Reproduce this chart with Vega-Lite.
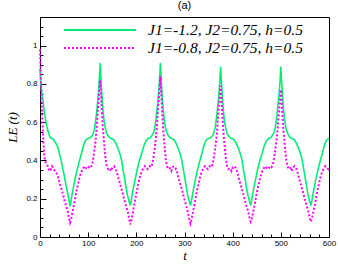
{
  "$schema": "https://vega.github.io/schema/vega-lite/v6.json",
  "width": 289,
  "height": 220,
  "autosize": {"type": "none"},
  "padding": {"left": 40, "top": 17, "right": 9, "bottom": 27},
  "background": "white",
  "title": {"text": "(a)", "font": "Liberation Sans", "fontSize": 11, "fontWeight": "normal", "offset": 2, "color": "#000"},
  "config": {
    "view": {"stroke": "#000", "strokeWidth": 1},
    "axis": {"grid": false, "domainColor": "#000", "tickColor": "#000", "labelColor": "#000", "labelFont": "Liberation Sans", "labelFontSize": 8, "titleColor": "#000", "titleFont": "Liberation Serif", "titleFontStyle": "italic", "titleFontWeight": "normal", "labelOverlap": false, "labelFlush": false},
    "legend": {"orient": "none", "legendX": 23, "legendY": 4, "symbolType": "stroke", "symbolSize": 5184, "symbolStrokeWidth": 2, "clipHeight": 18, "rowPadding": 0, "labelFont": "Liberation Serif", "labelFontStyle": "italic", "labelFontSize": 15.5, "labelOffset": 11, "labelColor": "#000", "labelLimit": 300}
  },
  "datasets": {
    "g": [
      {"t":0,"v":0.88},{"t":1,"v":0.82},{"t":3,"v":0.77},{"t":5.5,"v":0.73},{"t":8,"v":0.67},{"t":10.5,"v":0.63},{"t":13,"v":0.59},{"t":16,"v":0.56},{"t":20,"v":0.525},{"t":24,"v":0.515},{"t":27,"v":0.515},{"t":30,"v":0.5},{"t":33,"v":0.49},{"t":37,"v":0.47},{"t":41,"v":0.43},{"t":44,"v":0.4},{"t":47,"v":0.36},{"t":50.5,"v":0.32},{"t":54,"v":0.27},{"t":57.5,"v":0.23},{"t":60,"v":0.195},
      {"t":62.5,"v":0.16},{"t":64.5,"v":0.19},{"t":66.5,"v":0.22},{"t":69.5,"v":0.26},{"t":72.5,"v":0.3},{"t":76.5,"v":0.345},{"t":81.5,"v":0.395},{"t":86.5,"v":0.44},{"t":90.5,"v":0.48},{"t":94.5,"v":0.505},{"t":99.5,"v":0.515},{"t":104.5,"v":0.52},{"t":108.5,"v":0.53},{"t":111.5,"v":0.55},{"t":113.5,"v":0.57},{"t":115.5,"v":0.61},{"t":117.5,"v":0.65},{"t":119.5,"v":0.7},{"t":121.5,"v":0.76},{"t":123.5,"v":0.84},{"t":125,"v":0.91},{"t":126.5,"v":0.83},{"t":128.5,"v":0.74},{"t":130.5,"v":0.67},{"t":132.5,"v":0.62},{"t":135.5,"v":0.57},{"t":138.5,"v":0.54},{"t":142.5,"v":0.525},{"t":147.5,"v":0.515},{"t":152.5,"v":0.51},{"t":157.5,"v":0.49},{"t":162.5,"v":0.46},{"t":166.5,"v":0.43},{"t":169.5,"v":0.4},{"t":172.5,"v":0.35},{"t":175.5,"v":0.31},{"t":178.5,"v":0.26},{"t":181.5,"v":0.22},{"t":184.5,"v":0.19},
      {"t":187.5,"v":0.165},{"t":189.5,"v":0.19},{"t":191.5,"v":0.225},{"t":194.5,"v":0.265},{"t":197.5,"v":0.3},{"t":201.5,"v":0.35},{"t":206.5,"v":0.4},{"t":211.5,"v":0.44},{"t":215.5,"v":0.475},{"t":219.5,"v":0.5},{"t":224.5,"v":0.515},{"t":229.5,"v":0.52},{"t":233.5,"v":0.535},{"t":236.5,"v":0.55},{"t":238.5,"v":0.575},{"t":240.5,"v":0.61},{"t":242.5,"v":0.655},{"t":244.5,"v":0.7},{"t":246.5,"v":0.765},{"t":248.5,"v":0.84},{"t":250,"v":0.91},{"t":251.5,"v":0.83},{"t":253.5,"v":0.745},{"t":255.5,"v":0.675},{"t":257.5,"v":0.62},{"t":260.5,"v":0.57},{"t":263.5,"v":0.545},{"t":267.5,"v":0.525},{"t":272.5,"v":0.515},{"t":277.5,"v":0.51},{"t":282.5,"v":0.49},{"t":287.5,"v":0.46},{"t":291.5,"v":0.43},{"t":294.5,"v":0.4},{"t":297.5,"v":0.355},{"t":300.5,"v":0.31},{"t":303.5,"v":0.265},{"t":306.5,"v":0.22},{"t":309.5,"v":0.19},
      {"t":312.5,"v":0.165},{"t":314.5,"v":0.19},{"t":316.5,"v":0.22},{"t":319.5,"v":0.26},{"t":322.5,"v":0.3},{"t":326.5,"v":0.345},{"t":331.5,"v":0.395},{"t":336.5,"v":0.44},{"t":340.5,"v":0.48},{"t":344.5,"v":0.505},{"t":349.5,"v":0.515},{"t":354.5,"v":0.52},{"t":358.5,"v":0.53},{"t":361.5,"v":0.55},{"t":363.5,"v":0.57},{"t":365.5,"v":0.605},{"t":367.5,"v":0.645},{"t":369.5,"v":0.695},{"t":371.5,"v":0.75},{"t":373.5,"v":0.82},{"t":375,"v":0.89},{"t":376.5,"v":0.82},{"t":378.5,"v":0.735},{"t":380.5,"v":0.665},{"t":382.5,"v":0.615},{"t":385.5,"v":0.57},{"t":388.5,"v":0.54},{"t":392.5,"v":0.525},{"t":397.5,"v":0.515},{"t":402.5,"v":0.51},{"t":407.5,"v":0.49},{"t":412.5,"v":0.46},{"t":416.5,"v":0.43},{"t":419.5,"v":0.4},{"t":422.5,"v":0.35},{"t":425.5,"v":0.31},{"t":428.5,"v":0.26},{"t":431.5,"v":0.22},{"t":434.5,"v":0.19},
      {"t":437.5,"v":0.165},{"t":439.5,"v":0.19},{"t":441.5,"v":0.225},{"t":444.5,"v":0.265},{"t":447.5,"v":0.3},{"t":451.5,"v":0.35},{"t":456.5,"v":0.4},{"t":461.5,"v":0.44},{"t":465.5,"v":0.475},{"t":469.5,"v":0.5},{"t":474.5,"v":0.515},{"t":479.5,"v":0.52},{"t":483.5,"v":0.535},{"t":486.5,"v":0.55},{"t":488.5,"v":0.575},{"t":490.5,"v":0.605},{"t":492.5,"v":0.65},{"t":494.5,"v":0.7},{"t":496.5,"v":0.755},{"t":498.5,"v":0.82},{"t":500,"v":0.89},{"t":501.5,"v":0.82},{"t":503.5,"v":0.74},{"t":505.5,"v":0.67},{"t":507.5,"v":0.62},{"t":510.5,"v":0.57},{"t":513.5,"v":0.545},{"t":517.5,"v":0.525},{"t":522.5,"v":0.515},{"t":527.5,"v":0.51},{"t":532.5,"v":0.49},{"t":537.5,"v":0.46},{"t":541.5,"v":0.43},{"t":544.5,"v":0.4},{"t":547.5,"v":0.355},{"t":550.5,"v":0.31},{"t":553.5,"v":0.265},{"t":556.5,"v":0.22},{"t":559.5,"v":0.19},
      {"t":562.5,"v":0.165},{"t":564.5,"v":0.19},{"t":566.5,"v":0.22},{"t":569.5,"v":0.26},{"t":572.5,"v":0.3},{"t":576.5,"v":0.345},{"t":581.5,"v":0.395},{"t":586.5,"v":0.44},{"t":590.5,"v":0.48},{"t":594.5,"v":0.505},{"t":599.5,"v":0.515},{"t":600,"v":0.515}
    ],
    "p": [
      {"t":0,"v":0.98},{"t":1,"v":0.9},{"t":2,"v":0.82},{"t":3,"v":0.74},{"t":4.5,"v":0.64},{"t":6,"v":0.55},{"t":7.5,"v":0.48},{"t":9,"v":0.42},{"t":12,"v":0.385},{"t":16,"v":0.37},{"t":19,"v":0.345},{"t":22,"v":0.35},{"t":25,"v":0.37},{"t":28,"v":0.36},{"t":31,"v":0.345},{"t":34,"v":0.335},{"t":37,"v":0.32},{"t":40,"v":0.29},{"t":43,"v":0.265},{"t":47,"v":0.23},{"t":51,"v":0.19},{"t":54,"v":0.165},{"t":57.5,"v":0.136},{"t":60,"v":0.1},
      {"t":62.5,"v":0.075},{"t":64.5,"v":0.09},{"t":67.5,"v":0.13},{"t":71.5,"v":0.18},{"t":74.5,"v":0.225},{"t":78,"v":0.265},{"t":81.5,"v":0.305},{"t":85,"v":0.335},{"t":88.5,"v":0.355},{"t":92.5,"v":0.37},{"t":95.5,"v":0.36},{"t":98.5,"v":0.355},{"t":102.5,"v":0.37},{"t":105.5,"v":0.365},{"t":108.5,"v":0.38},{"t":110.5,"v":0.41},{"t":113,"v":0.455},{"t":115.5,"v":0.51},{"t":117.5,"v":0.56},{"t":120,"v":0.66},{"t":122,"v":0.72},{"t":123.5,"v":0.77},{"t":125,"v":0.82},{"t":126.5,"v":0.75},{"t":128.5,"v":0.65},{"t":130.5,"v":0.57},{"t":132.5,"v":0.51},{"t":134.5,"v":0.45},{"t":136.5,"v":0.4},{"t":138.5,"v":0.37},{"t":141.5,"v":0.355},{"t":144.5,"v":0.36},{"t":147.5,"v":0.345},{"t":150.5,"v":0.365},{"t":153.5,"v":0.37},{"t":156.5,"v":0.36},{"t":159.5,"v":0.34},{"t":162.5,"v":0.31},{"t":166.5,"v":0.275},{"t":170.5,"v":0.24},{"t":174.5,"v":0.2},{"t":178.5,"v":0.165},{"t":182.5,"v":0.13},{"t":185.5,"v":0.09},
      {"t":187.5,"v":0.066},{"t":189.5,"v":0.085},{"t":192.5,"v":0.125},{"t":196.5,"v":0.18},{"t":199.5,"v":0.22},{"t":203,"v":0.265},{"t":206.5,"v":0.305},{"t":210,"v":0.335},{"t":213.5,"v":0.355},{"t":217.5,"v":0.37},{"t":220.5,"v":0.36},{"t":223.5,"v":0.355},{"t":227.5,"v":0.37},{"t":230.5,"v":0.365},{"t":233.5,"v":0.385},{"t":235.5,"v":0.415},{"t":238,"v":0.46},{"t":240.5,"v":0.515},{"t":242.5,"v":0.57},{"t":245,"v":0.67},{"t":247,"v":0.73},{"t":248.5,"v":0.78},{"t":250,"v":0.84},{"t":251.5,"v":0.76},{"t":253.5,"v":0.66},{"t":255.5,"v":0.575},{"t":257.5,"v":0.51},{"t":259.5,"v":0.45},{"t":261.5,"v":0.4},{"t":263.5,"v":0.37},{"t":266.5,"v":0.355},{"t":269.5,"v":0.36},{"t":272.5,"v":0.345},{"t":275.5,"v":0.365},{"t":278.5,"v":0.37},{"t":281.5,"v":0.36},{"t":284.5,"v":0.34},{"t":287.5,"v":0.31},{"t":291.5,"v":0.275},{"t":295.5,"v":0.24},{"t":299.5,"v":0.2},{"t":303.5,"v":0.165},{"t":307.5,"v":0.125},{"t":310.5,"v":0.085},
      {"t":312.5,"v":0.07},{"t":314.5,"v":0.09},{"t":317.5,"v":0.13},{"t":321.5,"v":0.18},{"t":324.5,"v":0.225},{"t":328,"v":0.265},{"t":331.5,"v":0.305},{"t":335,"v":0.335},{"t":338.5,"v":0.355},{"t":342.5,"v":0.37},{"t":345.5,"v":0.36},{"t":348.5,"v":0.355},{"t":352.5,"v":0.37},{"t":355.5,"v":0.365},{"t":358.5,"v":0.38},{"t":360.5,"v":0.41},{"t":363,"v":0.45},{"t":365.5,"v":0.5},{"t":367.5,"v":0.55},{"t":370,"v":0.64},{"t":372,"v":0.7},{"t":373.5,"v":0.745},{"t":375,"v":0.79},{"t":376.5,"v":0.73},{"t":378.5,"v":0.64},{"t":380.5,"v":0.56},{"t":382.5,"v":0.5},{"t":384.5,"v":0.445},{"t":386.5,"v":0.4},{"t":388.5,"v":0.37},{"t":391.5,"v":0.355},{"t":394.5,"v":0.36},{"t":397.5,"v":0.345},{"t":400.5,"v":0.365},{"t":403.5,"v":0.37},{"t":406.5,"v":0.36},{"t":409.5,"v":0.34},{"t":412.5,"v":0.31},{"t":416.5,"v":0.275},{"t":420.5,"v":0.24},{"t":424.5,"v":0.2},{"t":428.5,"v":0.165},{"t":432.5,"v":0.13},{"t":435.5,"v":0.095},
      {"t":437.5,"v":0.08},{"t":439.5,"v":0.095},{"t":442.5,"v":0.13},{"t":446.5,"v":0.18},{"t":449.5,"v":0.225},{"t":453,"v":0.265},{"t":456.5,"v":0.305},{"t":460,"v":0.335},{"t":463.5,"v":0.355},{"t":467.5,"v":0.37},{"t":470.5,"v":0.36},{"t":473.5,"v":0.355},{"t":477.5,"v":0.37},{"t":480.5,"v":0.365},{"t":483.5,"v":0.38},{"t":485.5,"v":0.405},{"t":488,"v":0.445},{"t":490.5,"v":0.495},{"t":492.5,"v":0.54},{"t":495,"v":0.62},{"t":497,"v":0.68},{"t":498.5,"v":0.725},{"t":500,"v":0.77},{"t":501.5,"v":0.71},{"t":503.5,"v":0.63},{"t":505.5,"v":0.555},{"t":507.5,"v":0.5},{"t":509.5,"v":0.445},{"t":511.5,"v":0.4},{"t":513.5,"v":0.37},{"t":516.5,"v":0.355},{"t":519.5,"v":0.36},{"t":522.5,"v":0.345},{"t":525.5,"v":0.365},{"t":528.5,"v":0.37},{"t":531.5,"v":0.36},{"t":534.5,"v":0.34},{"t":537.5,"v":0.31},{"t":541.5,"v":0.275},{"t":545.5,"v":0.24},{"t":549.5,"v":0.2},{"t":553.5,"v":0.165},{"t":557.5,"v":0.13},{"t":560.5,"v":0.095},
      {"t":562.5,"v":0.08},{"t":564.5,"v":0.095},{"t":567.5,"v":0.13},{"t":571.5,"v":0.18},{"t":574.5,"v":0.225},{"t":578,"v":0.265},{"t":581.5,"v":0.305},{"t":585,"v":0.335},{"t":588.5,"v":0.355},{"t":592.5,"v":0.37},{"t":595.5,"v":0.36},{"t":598.5,"v":0.355},{"t":600,"v":0.36}
    ]
  },
  "encoding": {
    "x": {"field": "t", "type": "quantitative", "scale": {"domain": [0, 600], "nice": false},
      "axis": {"title": "t", "titleFontSize": 13, "titlePadding": 0, "labelPadding": 7,
        "values": [0,20,40,60,80,100,120,140,160,180,200,220,240,260,280,300,320,340,360,380,400,420,440,460,480,500,520,540,560,580,600],
        "labelExpr": "datum.value % 100 === 0 ? datum.label : ''",
        "tickSize": {"condition": {"test": "datum.value % 100 === 0", "value": -5}, "value": -3}}},
    "y": {"field": "v", "type": "quantitative", "scale": {"domain": [0, 1.15], "nice": false},
      "axis": {"title": "LE (t)", "titleFontSize": 13, "titlePadding": 6, "labelPadding": 9,
        "values": [0,0.05,0.1,0.15,0.2,0.25,0.3,0.35,0.4,0.45,0.5,0.55,0.6,0.65,0.7,0.75,0.8,0.85,0.9,0.95,1,1.05,1.1,1.15],
        "labelExpr": "abs(datum.value*5 - round(datum.value*5)) < 0.001 ? format(datum.value, '~g') : ''",
        "tickSize": {"condition": {"test": "abs(datum.value*5 - round(datum.value*5)) < 0.001", "value": -6}, "value": -3}}}
  },
  "layer": [
    {
      "data": {"name": "g"},
      "mark": {"type": "line", "strokeWidth": 1.6},
      "encoding": {
        "color": {"datum": "J1=-1.2, J2=0.75, h=0.5", "scale": {"domain": ["J1=-1.2, J2=0.75, h=0.5", "J1=-0.8, J2=0.75, h=0.5"], "range": ["#00ee77", "#ff00ff"]}, "legend": {"title": null}},
        "strokeDash": {"datum": "J1=-1.2, J2=0.75, h=0.5", "scale": {"domain": ["J1=-1.2, J2=0.75, h=0.5", "J1=-0.8, J2=0.75, h=0.5"], "range": [[1, 0], [2, 2]]}, "legend": {"title": null}}
      }
    },
    {
      "data": {"name": "p"},
      "mark": {"type": "line", "strokeWidth": 2},
      "encoding": {
        "color": {"datum": "J1=-0.8, J2=0.75, h=0.5"},
        "strokeDash": {"datum": "J1=-0.8, J2=0.75, h=0.5"}
      }
    }
  ]
}
